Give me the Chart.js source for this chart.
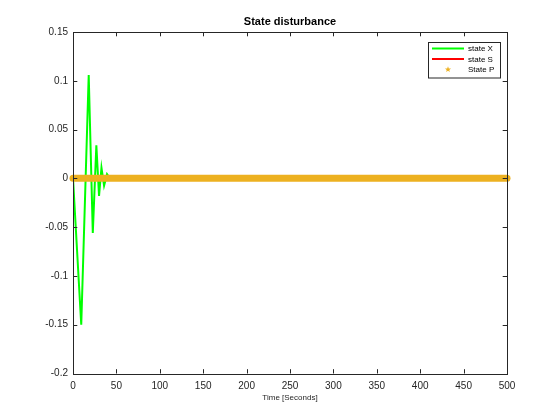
<!DOCTYPE html>
<html>
<head>
<meta charset="utf-8">
<script src="https://cdn.jsdelivr.net/npm/chart.js@4.4.0/dist/chart.umd.min.js"></script>
<style>
  html, body { margin: 0; padding: 0; background: #fff; }
  #wrap { width: 560px; height: 420px; }
</style>
</head>
<body>
<div id="wrap"><canvas id="chart" width="560" height="420"></canvas></div>
<script>
// values
const xTime  = [0, 9.5, 18.1, 22.8, 26.9, 30.0, 32.8, 35.8, 39.2, 42.5, 500];
const xState = [0, -0.150, 0.106, -0.056, 0.034, -0.018, 0.011, -0.0074, 0.0043, 0, 0];
const sTime  = [0, 500];
const sState = [0, 0];
const pTime  = [0, 500];
const pState = [0, 0];

const xTicks = [0, 50, 100, 150, 200, 250, 300, 350, 400, 450, 500];
const yTicks = [-0.2, -0.15, -0.1, -0.05, 0, 0.05, 0.1, 0.15];
const yTickLabels = ['-0.2', '-0.15', '-0.1', '-0.05', '0', '0.05', '0.1', '0.15'];

const seriesNames  = ['state X', 'state S', 'State P'];
const seriesColors = ['#00ff00', '#ff0000', '#edb120'];

const axisColor = '#262626';
const fontFamily = '"Liberation Sans", Arial, Helvetica, sans-serif';

function toPoints(t, v) {
  return t.map((x, i) => ({ x: x, y: v[i] }));
}

function drawStar(c, cx, cy, r) {
  c.beginPath();
  for (let i = 0; i < 10; i++) {
    const rr = i % 2 === 0 ? r : r * 0.42;
    const a = -Math.PI / 2 + i * Math.PI / 5;
    const px = cx + rr * Math.cos(a);
    const py = cy + rr * Math.sin(a);
    if (i === 0) c.moveTo(px, py); else c.lineTo(px, py);
  }
  c.closePath();
}

// box round the axes with inward ticks, like matlab
const boxPlugin = {
  id: 'boxTicks',
  afterDatasetsDraw(chart) {
    const c = chart.ctx;
    const a = chart.chartArea;
    const xs = chart.scales.x, ys = chart.scales.y;
    const len = 4.3;
    c.save();
    c.strokeStyle = axisColor;
    c.lineWidth = 1;
    c.beginPath();
    xTicks.forEach(v => {
      const px = Math.round(xs.getPixelForValue(v)) + 0.5;
      c.moveTo(px, a.bottom); c.lineTo(px, a.bottom - len);
      c.moveTo(px, a.top); c.lineTo(px, a.top + len);
    });
    yTicks.forEach(v => {
      const py = Math.round(ys.getPixelForValue(v)) + 0.5;
      c.moveTo(a.left, py); c.lineTo(a.left + len, py);
      c.moveTo(a.right, py); c.lineTo(a.right - len, py);
    });
    c.stroke();
    c.strokeRect(Math.round(a.left) + 0.5, Math.round(a.top) + 0.5,
      Math.round(a.right - a.left), Math.round(a.bottom - a.top));
    c.restore();
  },
  afterDraw(chart) {
    // legend in the upper right corner, inside the axes
    const c = chart.ctx;
    const a = chart.chartArea;
    const bw = 72, bh = 35.5;
    const bx = a.right - 7 - bw, by = a.top + 10;
    c.save();
    c.fillStyle = '#fff';
    c.fillRect(bx, by, bw, bh);
    c.strokeStyle = axisColor;
    c.lineWidth = 1;
    c.strokeRect(Math.round(bx) + 0.5, Math.round(by) + 0.5, bw, bh);
    c.font = '8px ' + fontFamily;
    c.textBaseline = 'middle';
    c.textAlign = 'left';
    seriesNames.forEach((name, i) => {
      const ry = by + 6.5 + i * 10.5;
      if (i < 2) {
        c.strokeStyle = seriesColors[i];
        c.lineWidth = 2;
        c.beginPath();
        c.moveTo(bx + 4, ry); c.lineTo(bx + 36, ry);
        c.stroke();
      } else {
        c.fillStyle = seriesColors[i];
        drawStar(c, bx + 20, ry, 3.2);
        c.fill();
      }
      c.fillStyle = '#000';
      c.fillText(name, bx + 40, ry + 0.5);
    });
    c.restore();
  }
};

const ctx = document.getElementById('chart').getContext('2d');
const chart = new Chart(ctx, {
  type: 'scatter',
  data: {
    datasets: [
      {
        label: seriesNames[0],
        data: toPoints(xTime, xState),
        showLine: true,
        borderColor: seriesColors[0],
        borderWidth: 2,
        pointRadius: 0,
        order: 2
      },
      {
        label: seriesNames[1],
        data: toPoints(sTime, sState),
        showLine: true,
        borderColor: seriesColors[1],
        borderWidth: 2,
        pointRadius: 0,
        order: 1
      },
      {
        label: seriesNames[2],
        data: toPoints(pTime, pState),
        showLine: true,
        borderColor: seriesColors[2],
        borderWidth: 7,
        borderCapStyle: 'round',
        pointRadius: 0,
        clip: 5,
        order: 0
      }
    ]
  },
  options: {
    responsive: false,
    animation: false,
    events: [],
    layout: { padding: { left: 0, right: 53, top: 0, bottom: 0 } },
    plugins: {
      legend: { display: false },
      tooltip: { enabled: false },
      title: {
        display: true,
        text: 'State disturbance',
        fullSize: false,
        color: '#000',
        font: { family: fontFamily, size: 11, weight: 'bold' },
        padding: { top: 15.5, bottom: 3.3 }
      }
    },
    scales: {
      x: {
        type: 'linear',
        min: 0,
        max: 500,
        grid: { display: false, drawTicks: false },
        border: { display: false },
        afterBuildTicks(s) { s.ticks = xTicks.map(v => ({ value: v })); },
        afterFit(s) { s.height = 46.5; },
        ticks: {
          color: axisColor,
          padding: 7,
          maxRotation: 0,
          autoSkip: false,
          font: { family: fontFamily, size: 10 },
          callback: (v) => String(v)
        },
        title: {
          display: true,
          text: 'Time [Seconds]',
          color: axisColor,
          font: { family: fontFamily, size: 8 },
          padding: { top: 0, bottom: 17.5 }
        }
      },
      y: {
        type: 'linear',
        min: -0.2,
        max: 0.15,
        grid: { display: false, drawTicks: false },
        border: { display: false },
        afterBuildTicks(s) { s.ticks = yTicks.map(v => ({ value: v })); },
        afterFit(s) { s.width = 73; },
        ticks: {
          color: axisColor,
          padding: 5,
          autoSkip: false,
          font: { family: fontFamily, size: 10 },
          callback: (v, i) => yTickLabels[i]
        }
      }
    }
  },
  plugins: [boxPlugin]
});
</script>
</body>
</html>
